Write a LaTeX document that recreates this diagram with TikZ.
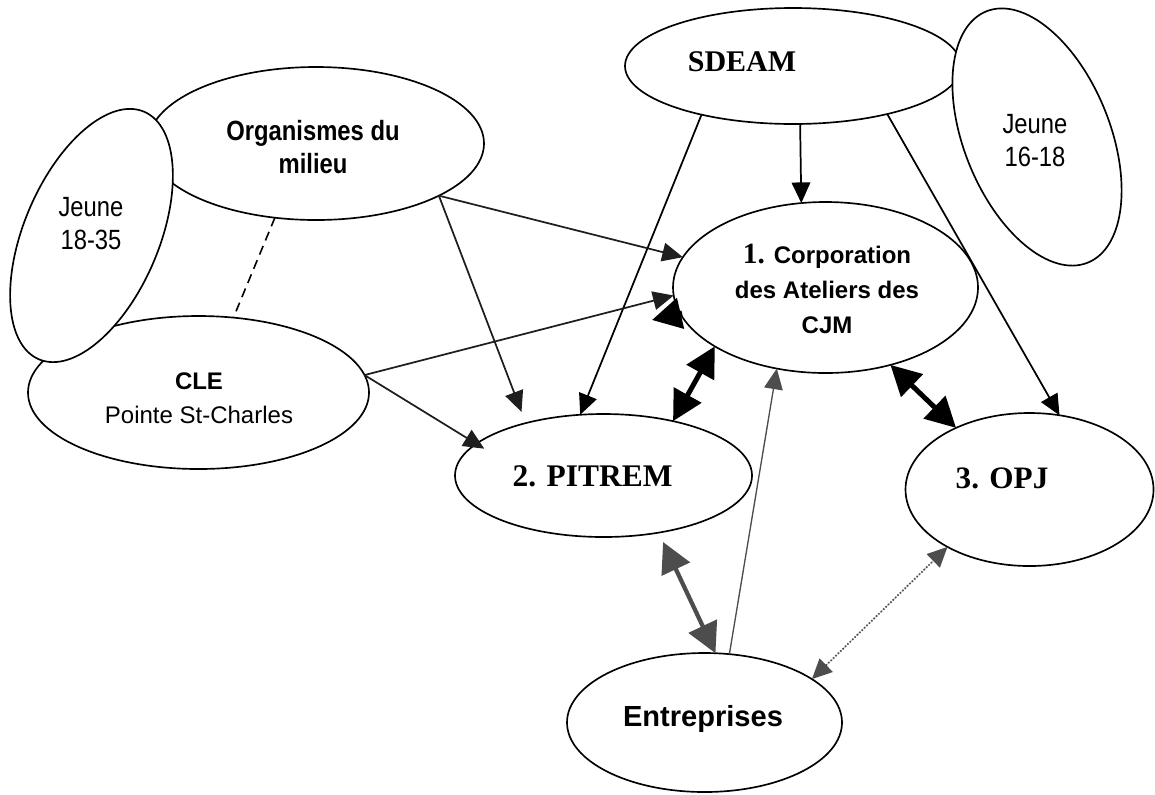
\documentclass[tikz,border=0pt]{standalone}
\usepackage{fontspec}
\setmainfont{Liberation Serif}
\setsansfont{Liberation Sans}
\usepackage{graphicx}
\usetikzlibrary{arrows.meta,shapes.geometric}
\definecolor{linkgray}{HTML}{4D4D4D}
\definecolor{darkink}{HTML}{1E1E1E}
% taller-than-wide lettering used in a few bubbles
\newcommand\tall[1]{\scalebox{1}[1.17]{#1}}

\begin{document}
\begin{tikzpicture}[x=0.75pt,y=-0.75pt,
  bubble/.style={draw,ellipse,fill=white,line width=1.25pt,inner sep=0pt,outer sep=0pt},
  lbl/.style={inner sep=0pt,outer sep=0pt,align=center},
  sanslbl/.style={lbl,font=\sffamily\fontsize{18}{25.5}\selectfont},
  talllbl/.style={lbl,font=\sffamily\fontsize{17.85}{24.75}\selectfont},
  seriflbl/.style={lbl,font=\rmfamily\bfseries\fontsize{23.6}{28}\selectfont},
  smallhead/.style={arrows={-{Triangle[length=15.5pt,width=14pt]}}},
  thinarrow/.style={smallhead,line width=1.3pt,draw=black,fill=black},
  darkarrow/.style={smallhead,line width=1.3pt,draw=darkink,fill=darkink},
  bighead/.style={arrows={{Triangle[length=22.5pt,width=23pt]}-{Triangle[length=22.5pt,width=23pt]}}},
  bigarrow/.style={bighead,line width=3.75pt,draw=black,fill=black},
  graybig/.style={bighead,line width=3.2pt,draw=linkgray,fill=linkgray},
  graythin/.style={smallhead,line width=1pt,draw=linkgray,fill=linkgray},
  graydotted/.style={arrows={{Triangle[length=15pt,width=14pt]}-{Triangle[length=15pt,width=14pt]}},line width=1.3pt,dash pattern=on 1.1pt off 1.4pt,draw=linkgray,fill=linkgray},
  dashedlink/.style={line width=1.2pt,dash pattern=on 7pt off 4.5pt}
]
\useasboundingbox (0,0) rectangle (1155,794);

% ---- outer partners (left) ----
\node[bubble,minimum width=252pt,minimum height=114.75pt] (org) at (316,143.5) {};
\node[bubble,minimum width=255.75pt,minimum height=114.75pt] (cle) at (198.5,392.5) {};
\node[bubble,minimum width=101.25pt,minimum height=201.75pt,rotate=-23] (young1835) at (91.5,235.5) {};

% ---- outer partners (top right) ----
\node[bubble,minimum width=252pt,minimum height=87pt] (sdeam) at (793,66) {};
\node[bubble,minimum width=109.5pt,minimum height=203.25pt,rotate=22] (young1618) at (1037,137) {};

% ---- core organisations ----
\node[bubble,minimum width=228.75pt,minimum height=128.25pt] (corp) at (825.5,287.5) {};
\node[bubble,minimum width=222.75pt,minimum height=92.25pt] (pit) at (603.5,475.5) {};
\node[bubble,minimum width=186pt,minimum height=114.75pt] (opj) at (1029.5,489.5) {};
\node[bubble,minimum width=206.25pt,minimum height=104.25pt] (ent) at (704.5,722.5) {};

% ---- labels ----
\node[talllbl,font=\sffamily\bfseries\fontsize{17.85}{24.75}\selectfont] (orgtext) at (313,146.7) {\tall{Organismes du}\\\tall{milieu}};
\node[talllbl] (young1835text) at (91,223.3) {\tall{Jeune}\\\tall{18-35}};
\node[talllbl] (young1618text) at (1035,140.8) {\tall{Jeune}\\\tall{16-18}};
\node[sanslbl] (cletext) at (199,398) {\textbf{CLE}\\Pointe St-Charles};
\node[lbl,font=\sffamily\bfseries\fontsize{18}{26.25}\selectfont] (corptext) at (827,289)
  {{\rmfamily\fontsize{22}{26.25}\selectfont 1.} Corporation\\des Ateliers des\\CJM};
\node[seriflbl,font=\rmfamily\bfseries\fontsize{22.5}{28}\selectfont,anchor=base] (sdeamtext) at (742,71.7) {SDEAM};
\node[seriflbl,anchor=base] (pittext) at (592.5,486.7) {2. PITREM};
\node[seriflbl,font=\rmfamily\bfseries\fontsize{23.4}{28}\selectfont,anchor=base] (opjtext) at (1002,488) {3. OPJ};
\node[lbl,font=\sffamily\bfseries\fontsize{21.8}{26}\selectfont,anchor=base] (enttext) at (703,726.7) {Entreprises};

% ---- links from SDEAM ----
\draw[thinarrow] (sdeam.-83.1) -- (corp.106.6);
\draw[thinarrow] (sdeam.-152.3) -- (pit.111.9);
\draw[thinarrow] (sdeam.-27.7) -- (opj.68.5);

% ---- links from the local organisations and the CLE ----
\draw[darkarrow] (org.-23.3) -- (corp.168.9);
\draw[darkarrow,shorten >=9pt] (org.-23.3) -- (pit.146.2);
\draw[darkarrow] (cle.6.4) -- (corp.-177.2);
\draw[darkarrow,shorten >=-7pt] (cle.6.4) -- (pit.166.5);
\draw[dashedlink] (org.-119.35) -- (cle.65.25);

% ---- two-way links between the core organisations ----
\draw[bigarrow] (pit.38.3) -- (corp.-152.9);
\draw[bigarrow] (corp.-50) -- (opj.140.8);
\coordinate (loosetail) at (682,313);
\coordinate (loosetip) at (652,320);
\draw[line width=3.75pt,draw=black,fill=black,arrows={-{Triangle[length=22pt,width=23pt]}}] (loosetail) -- (loosetip);

% ---- links with the businesses ----
\draw[graybig,shorten <=7.8pt] (pit.-46) -- (ent.81.4);
\draw[graythin] (ent.70.5) -- (corp.-121.9);
\draw[graydotted] (ent.22.5) -- (opj.-145);
\end{tikzpicture}
\end{document}
